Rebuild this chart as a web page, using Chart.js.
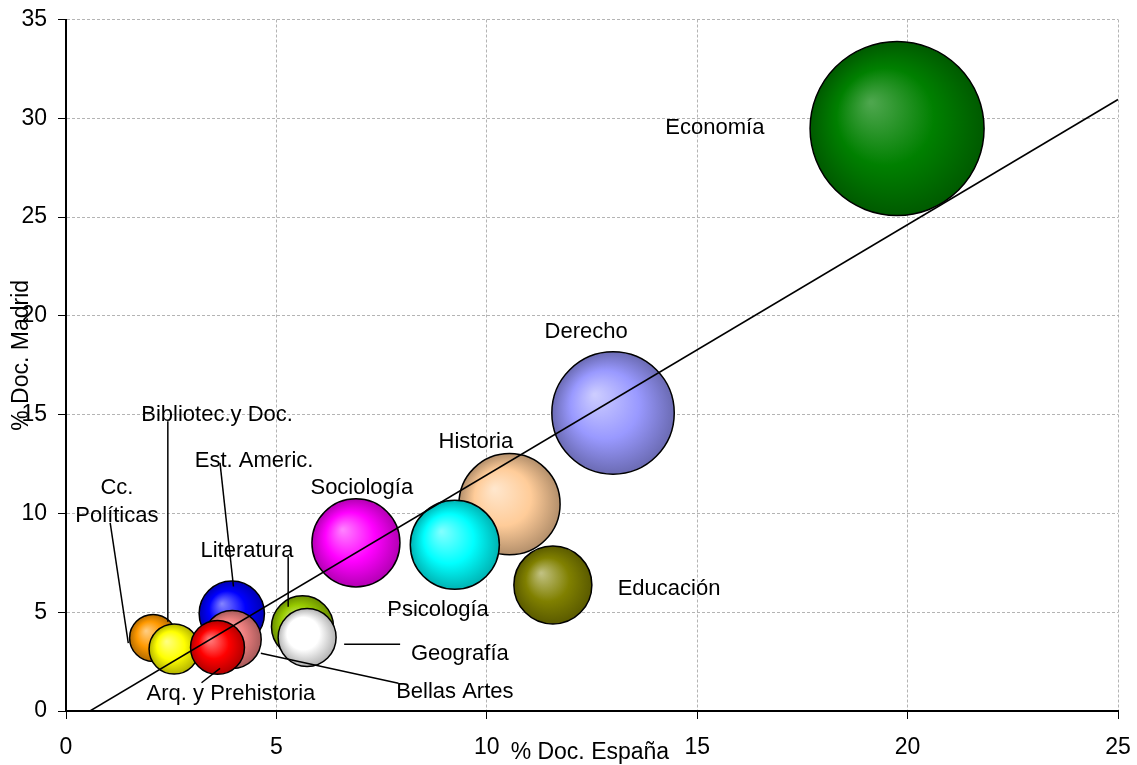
<!DOCTYPE html>
<html>
<head>
<meta charset="utf-8">
<script src="https://cdn.jsdelivr.net/npm/chart.js@4"></script>
<style>
  body { margin: 0; background: #fff; }
  #wrap { width: 1137px; height: 765px; position: relative; }
</style>
</head>
<body>
<div id="wrap"><canvas id="myChart"></canvas></div>
<script>
// datos
const areas = ['Economía', 'Derecho', 'Historia', 'Psicología', 'Sociología', 'Educación',
  'Est. Americ.', 'Bellas Artes', 'Literatura', 'Geografía', 'Cc. Políticas', 'Bibliotec.y Doc.', 'Arq. y Prehistoria'];
const pctEspana = [19.75, 13.0, 10.54, 9.24, 6.89, 11.57, 3.94, 3.95, 5.62, 5.73, 2.07, 2.57, 3.60];
const pctMadrid = [29.48, 15.08, 10.47, 8.41, 8.51, 6.38, 4.93, 3.62, 4.26, 3.72, 3.70, 3.14, 3.22];
const tamano = [100, 49.5, 33.8, 26.2, 25.6, 20.1, 14.1, 11.1, 12.7, 11.1, 7.3, 8.3, 9.6];
const colores = ['#008000', '#9999ff', '#ffcc99', '#00ffff', '#ff00ff', '#808000',
  '#0000ff', '#ee8080', '#99cc00', '#ffffff', '#ff9900', '#ffff00', '#ff0000'];

// linea de tendencia
const tendX = [0.57, 25];
const tendY = [0, 30.95];

const xTicks = [0, 5, 10, 15, 20, 25];
const yTicks = [0, 5, 10, 15, 20, 25, 30, 35];

// etiquetas (posicion en unidades de los ejes) y lineas guia
const etiquetas = [
  { t: ['Economía'], x: 15.42, y: 29.53 },
  { t: ['Derecho'], x: 12.36, y: 19.2 },
  { t: ['Historia'], x: 9.74, y: 13.63 },
  { t: ['Psicología'], x: 8.84, y: 5.12 },
  { t: ['Sociología'], x: 7.03, y: 11.3 },
  { t: ['Educación'], x: 14.33, y: 6.18 },
  { t: ['Est. Americ.'], x: 4.47, y: 12.66 },
  { t: ['Bellas Artes'], x: 9.24, y: 0.96 },
  { t: ['Literatura'], x: 4.30, y: 8.1 },
  { t: ['Geografía'], x: 9.36, y: 2.89 },
  { t: ['Cc.', 'Políticas'], x: 1.21, y: 10.6 },
  { t: ['Bibliotec.y Doc.'], x: 3.59, y: 15.0 },
  { t: ['Arq. y Prehistoria'], x: 3.92, y: 0.86 }
];
const guias = [
  [2.42, 14.66, 2.42, 4.52],
  [3.66, 12.56, 3.98, 6.30],
  [1.05, 9.52, 1.48, 3.44],
  [5.28, 7.82, 5.28, 5.28],
  [3.22, 1.43, 3.66, 2.16],
  [4.63, 2.92, 7.90, 1.40],
  [6.61, 3.38, 7.94, 3.38]
];

const fuente = '"Liberation Sans", Arial, sans-serif';
const radioMax = 87;

const hexRgb = h => [1, 3, 5].map(i => parseInt(h.slice(i, i + 2), 16));
const mezcla = (h, c, t) => {
  const a = hexRgb(h);
  return 'rgb(' + a.map((v, i) => Math.round(v + (c[i] - v) * t)).join(',') + ')';
};

function esfera(context) {
  const chart = context.chart;
  const i = context.dataIndex;
  const base = colores[i];
  const sx = chart.scales.x, sy = chart.scales.y;
  if (!sx || !sy || context.type !== 'data') return base;
  const raw = context.raw;
  const cx = sx.getPixelForValue(raw.x), cy = sy.getPixelForValue(raw.y), r = raw.r;
  if (!isFinite(cx) || !isFinite(cy)) return base;
  const g = chart.ctx.createRadialGradient(cx - r * 0.3, cy - r * 0.3, r * 0.02, cx, cy, r);
  g.addColorStop(0, mezcla(base, [255, 255, 255], i === 0 ? 0.3 : 0.5));
  g.addColorStop(0.55, base);
  g.addColorStop(1, mezcla(base, [0, 0, 0], 0.3));
  return g;
}

const puntos = areas.map((a, i) => ({
  x: pctEspana[i], y: pctMadrid[i], r: radioMax * Math.sqrt(tamano[i] / 100)
}));

const etiquetasPlugin = {
  id: 'etiquetas',
  afterDatasetsDraw(chart) {
    const { ctx, scales: { x, y } } = chart;
    ctx.save();
    ctx.strokeStyle = '#000';
    ctx.lineWidth = 1.5;
    guias.forEach(g => {
      ctx.beginPath();
      ctx.moveTo(x.getPixelForValue(g[0]), y.getPixelForValue(g[1]));
      ctx.lineTo(x.getPixelForValue(g[2]), y.getPixelForValue(g[3]));
      ctx.stroke();
    });
    ctx.fillStyle = '#000';
    ctx.font = '22px ' + fuente;
    ctx.textAlign = 'center';
    ctx.textBaseline = 'middle';
    etiquetas.forEach(e => {
      const px = x.getPixelForValue(e.x), py = y.getPixelForValue(e.y);
      const off = (e.t.length - 1) * 14;
      e.t.forEach((line, k) => ctx.fillText(line, px, py - off + k * 28));
    });
    // titulos de ejes
    ctx.font = '23px ' + fuente;
    ctx.fillText('% Doc. España', x.getPixelForValue(12.45), 753);
    ctx.translate(22, y.getPixelForValue(18));
    ctx.rotate(-Math.PI / 2);
    ctx.fillText('% Doc. Madrid', 0, 0);
    ctx.restore();
  }
};

const ctx = document.getElementById('myChart');

const myChart = new Chart(ctx, {
  type: 'bubble',
  data: {
    datasets: [
      {
        type: 'line',
        label: 'Tendencia',
        data: tendX.map((v, i) => ({ x: v, y: tendY[i] })),
        borderColor: '#000',
        borderWidth: 1.5,
        pointRadius: 0,
        fill: false,
        order: 0
      },
      {
        label: 'Doc.',
        data: puntos,
        backgroundColor: esfera,
        borderColor: '#000',
        borderWidth: 1.5,
        order: 1
      }
    ]
  },
  options: {
    responsive: true,
    maintainAspectRatio: false,
    animation: false,
    events: [],
    layout: { padding: { top: 19.5, right: 19, left: 0, bottom: 0 } },
    plugins: { legend: { display: false }, tooltip: { enabled: false } },
    scales: {
      x: {
        type: 'linear',
        min: 0, max: 25,
        afterBuildTicks: s => { s.ticks = xTicks.map(v => ({ value: v })); },
        afterFit: s => { s.height = 54; s.paddingLeft = 0; s.paddingRight = 0; },
        grid: { color: '#b4b4b4', tickColor: '#000', tickLength: 8, lineWidth: 1 },
        border: { color: '#000', width: 2, dash: [3, 2] },
        ticks: { color: '#000', padding: 15, maxRotation: 0, font: { family: fuente, size: 23 } }
      },
      y: {
        type: 'linear',
        min: 0, max: 35,
        afterBuildTicks: s => { s.ticks = yTicks.map(v => ({ value: v })); },
        afterFit: s => { s.width = 66; s.paddingTop = 0; s.paddingBottom = 0; },
        grid: { color: '#b4b4b4', tickColor: '#000', tickLength: 8, lineWidth: 1 },
        border: { color: '#000', width: 2, dash: [3, 2] },
        ticks: { color: '#000', padding: 11, font: { family: fuente, size: 23 } }
      }
    }
  },
  plugins: [etiquetasPlugin]
});

// sin margen extra por el radio de las burbujas
myChart.getDatasetMeta(1).controller.getMaxOverflow = () => 0;
myChart.update();
</script>
</body>
</html>
